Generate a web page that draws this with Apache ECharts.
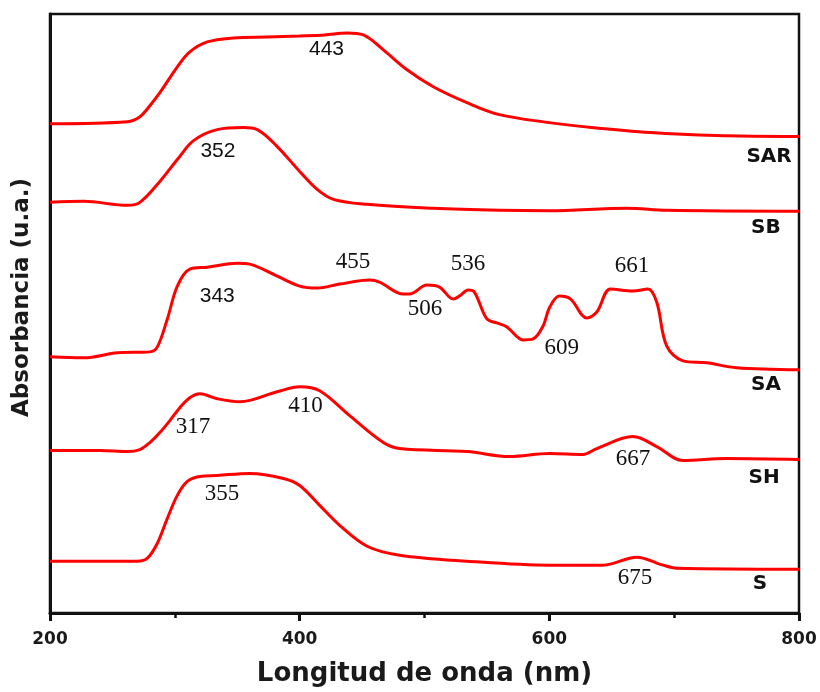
<!DOCTYPE html>
<html>
<head>
<meta charset="utf-8">
<script src="https://cdn.jsdelivr.net/npm/echarts@6/dist/echarts.min.js"></script>
<style>html,body{margin:0;padding:0;background:#fff;}#c{width:820px;height:692px;}</style>
</head>
<body>
<div id="c"></div>
<script>
// Wavelength (nm) / absorbance (a.u., offset-stacked) readings
const SAR = [[200,4.91],[262,4.93],[272,4.98],[280,5.09],[288,5.22],[302,5.48],[312,5.63],[326,5.73],[347,5.77],[374,5.78],[400,5.79],[420,5.80],[438,5.82],[451,5.80],[467,5.65],[486,5.45],[507,5.28],[534,5.12],[560,5.00],[600,4.92],[627,4.88],[681,4.82],[734,4.79],[800,4.78]];
const SB = [[200,4.12],[227,4.13],[262,4.09],[272,4.12],[288,4.33],[302,4.55],[315,4.74],[334,4.85],[355,4.87],[366,4.85],[382,4.68],[400,4.43],[414,4.25],[427,4.15],[454,4.10],[507,4.06],[560,4.04],[600,4.035],[662,4.06],[694,4.04],[800,4.03]];
const SA = [[200,2.57],[227,2.56],[254,2.61],[280,2.62],[286,2.67],[294,2.95],[302,3.28],[312,3.45],[326,3.47],[350,3.51],[360,3.50],[382,3.38],[400,3.28],[414,3.26],[432,3.30],[456,3.34],[464,3.32],[483,3.20],[488,3.20],[502,3.29],[512,3.27],[523,3.15],[528,3.18],[535,3.24],[540,3.22],[550,2.95],[558,2.91],[566,2.87],[579,2.74],[587,2.75],[595,2.88],[600,3.06],[608,3.18],[617,3.15],[630,2.96],[638,3.02],[649,3.25],[667,3.23],[679,3.25],[686,3.12],[694,2.68],[707,2.53],[726,2.51],[750,2.46],[800,2.44]];
const SH = [[200,1.63],[240,1.63],[262,1.62],[272,1.64],[280,1.71],[288,1.81],[296,1.93],[304,2.06],[312,2.16],[320,2.20],[334,2.15],[352,2.12],[382,2.22],[400,2.27],[416,2.23],[440,1.98],[467,1.71],[480,1.65],[534,1.62],[568,1.57],[600,1.60],[627,1.59],[638,1.65],[667,1.77],[686,1.67],[707,1.53],[742,1.55],[800,1.54]];
const S = [[200,0.52],[270,0.52],[278,0.55],[286,0.70],[294,0.95],[302,1.18],[310,1.32],[320,1.37],[334,1.38],[360,1.40],[387,1.35],[400,1.28],[416,1.08],[432,0.88],[454,0.67],[480,0.58],[534,0.52],[600,0.48],[643,0.48],[670,0.56],[691,0.48],[702,0.45],[800,0.44]];

// Peak annotations: [wavelength, absorbance position, text]
const sansPeaks = [[421.5,5.66,'443'],[334.5,4.63,'352'],[334,3.18,'343']];
const serifPeaks = [[442.7,3.52,'455'],[500.4,3.05,'506'],[534.8,3.50,'536'],[610,2.66,'609'],[666.2,3.48,'661'],[314.5,1.87,'317'],[404.7,2.08,'410'],[667,1.55,'667'],[337.8,1.19,'355'],[668.6,0.35,'675']];
const seriesTags = [[776,4.58,'SAR'],[773.5,3.86,'SB'],[773.5,2.29,'SA'],[772,1.36,'SH'],[768.7,0.29,'S']];

const xTicks = {min:200, max:800, interval:200};

const lineStyle = {color:'#ff0000', width:3};
function curve(name, data){
  return {name:name, type:'line', data:data, smooth:0.35, showSymbol:false, symbol:'none',
    lineStyle:lineStyle, itemStyle:{color:'#ff0000'}, silent:true, z:3};
}
function labels(data, font){
  return {type:'scatter', data:data, symbolSize:0, silent:true, z:5,
    itemStyle:{opacity:1, color:'#111'},
    label:{show:true, position:'inside', formatter:p=>p.data[2], color:'#111', opacity:1,
      textBorderWidth:0, textShadowBlur:0, ...font}};
}

const chart = echarts.init(document.getElementById('c'), null, {renderer:'canvas'});
chart.setOption({
  animation:false,
  backgroundColor:'#fff',
  grid:{left:50, right:21, top:14, bottom:77, show:true, borderColor:'#111', borderWidth:2.5},
  xAxis:{type:'value', min:xTicks.min, max:xTicks.max, interval:xTicks.interval,
    axisLine:{show:true, lineStyle:{color:'#111', width:3}},
    axisTick:{show:true, inside:false, length:8, lineStyle:{color:'#111', width:3}},
    minorTick:{show:true, splitNumber:2, length:5, lineStyle:{color:'#111', width:2.5}},
    splitLine:{show:false}, minorSplitLine:{show:false},
    axisLabel:{margin:18, color:'#1a1a1a', fontFamily:'DejaVu Sans', fontWeight:'bold', fontSize:17},
    name:'Longitud de onda (nm)', nameLocation:'middle', nameGap:48,
    nameTextStyle:{color:'#1a1a1a', fontFamily:'DejaVu Sans', fontWeight:'bold', fontSize:26}},
  yAxis:{type:'value', min:0, max:6.01,
    axisLine:{show:true, lineStyle:{color:'#111', width:3}},
    axisTick:{show:false}, axisLabel:{show:false}, splitLine:{show:false},
    name:'Absorbancia (u.a.)', nameLocation:'middle', nameGap:16,
    nameTextStyle:{color:'#1a1a1a', fontFamily:'DejaVu Sans', fontWeight:'bold', fontSize:23, padding:[0,0,0,32]}},
  series:[
    curve('SAR', SAR), curve('SB', SB), curve('SA', SA), curve('SH', SH), curve('S', S),
    labels(sansPeaks, {fontFamily:'Liberation Sans', fontSize:21}),
    labels(serifPeaks, {fontFamily:'Liberation Serif', fontSize:23}),
    labels(seriesTags, {fontFamily:'DejaVu Sans', fontWeight:'bold', fontSize:20})
  ]
});
</script>
</body>
</html>
